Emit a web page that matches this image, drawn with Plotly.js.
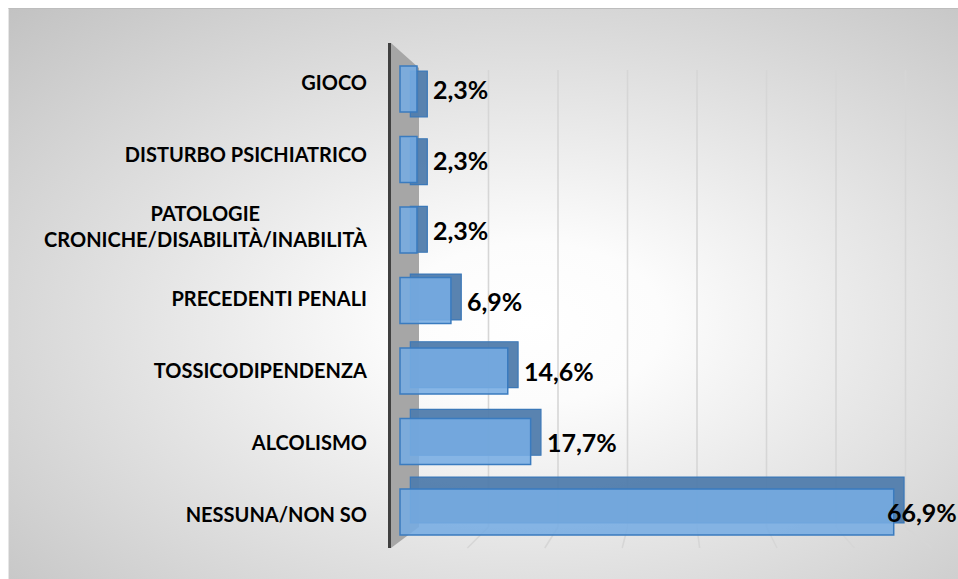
<!DOCTYPE html>
<html><head><meta charset="utf-8">
<script src="https://cdn.plot.ly/plotly-3.0.1.min.js"></script>
<style>
html,body{margin:0;padding:0;width:958px;height:579px;overflow:hidden;background:#fff;}
#panel{position:absolute;left:8px;top:8px;width:950px;height:571px;box-sizing:border-box;
 background:radial-gradient(ellipse farthest-corner at 55% 55%, #ffffff 0%, #fcfcfc 18%, #c2c2c2 100%);
 border-top:1px solid #bdbdbd;border-left:1px solid #e6e6e6;}
#chart{position:absolute;left:0;top:0;width:958px;height:579px;}
</style></head><body><div id="panel"></div><div id="chart"></div>
<script>
// ---- data ----
const categories = ['GIOCO','DISTURBO PSICHIATRICO','PATOLOGIE CRONICHE/DISABILITÀ/INABILITÀ','PRECEDENTI PENALI','TOSSICODIPENDENZA','ALCOLISMO','NESSUNA/NON SO'];
const tickLabels = ['GIOCO','DISTURBO PSICHIATRICO','PATOLOGIE' + '\u00A0'.repeat(22) + '<br>CRONICHE/DISABILITÀ/INABILITÀ','PRECEDENTI PENALI','TOSSICODIPENDENZA','ALCOLISMO','NESSUNA/NON SO'];
const values = [2.3, 2.3, 2.3, 6.9, 14.6, 17.7, 66.9];
const valueLabels = ['2,3%','2,3%','2,3%','6,9%','14,6%','17,7%','66,9%'];
const gridValues = [10, 20, 30, 40, 50, 60, 70];

// ---- geometry (pixels) ----
const W = 958, H = 579, L = 391, R = 0, T = 43, B = 31;
const plotW = W - L - R, plotH = H - T - B;
const xp = px => (px - L) / plotW;
const yp = py => (H - B - py) / plotH;

const front0 = 400, frontK = 7.38;   // front face scale
const back0 = 419, backK = 6.95;     // back wall scale
const floor0 = 390, floorK = 7.74;   // floor front edge scale

const barW = 0.65;
const depth = 1.4;
const backShift = categories.map((c, i) => (5 - 17 * i / 6) / 70.5);

const backTrace = {
  type: 'bar', orientation: 'h', yaxis: 'y2', xaxis: 'x',
  y: categories, x: values, base: values.map(() => depth),
  width: barW, offset: backShift.map(s => -barW / 2 + s),
  marker: {color: 'rgba(80,124,172,0.95)', line: {color: '#3b78b8', width: 1.2}},
  hoverinfo: 'skip'
};
const frontTrace = {
  type: 'bar', orientation: 'h', yaxis: 'y2', xaxis: 'x',
  y: categories, x: values, width: barW,
  marker: {color: 'rgba(118,172,226,0.88)', line: {color: '#3a7bbf', width: 1.5}},
  hoverinfo: 'x+y'
};

const shapes = [];
// side wall
shapes.push({type: 'path', xref: 'paper', yref: 'paper', layer: 'below',
  path: `M ${xp(391)},${yp(43)} L ${xp(419)},${yp(68)} L ${xp(419)},${yp(527)} L ${xp(391)},${yp(548)} Z`,
  fillcolor: '#a6a6a6', line: {width: 0}});
// gridlines on back wall + floor
gridValues.forEach(v => {
  shapes.push({type: 'line', xref: 'x2', yref: 'paper', layer: 'below',
    x0: v, x1: v, y0: yp(70), y1: yp(527), line: {color: '#d6d6d6', width: 1.6}});
  shapes.push({type: 'line', xref: 'paper', yref: 'paper', layer: 'below',
    x0: xp(back0 + backK * v), y0: yp(527), x1: xp(floor0 + floorK * v), y1: yp(548),
    line: {color: '#d6d6d6', width: 1.6}});
});

const maxV = Math.max(...values);
const annotations = values.map((v, i) => ({
  xref: 'x', yref: 'y2', x: v, y: categories[i],
  text: valueLabels[i], showarrow: false, xanchor: 'left', yanchor: 'middle',
  xshift: v === maxV ? -9 : 14,
  font: {family: 'Lato, sans-serif', size: 25, color: '#000', weight: 'bold'}
}));

const layout = {
  width: W, height: H,
  margin: {l: L, r: R, t: T, b: B, pad: 0},
  paper_bgcolor: 'rgba(0,0,0,0)', plot_bgcolor: 'rgba(0,0,0,0)',
  showlegend: false, barmode: 'overlay',
  xaxis: {range: [(L - front0) / frontK, (W - R - front0) / frontK], showgrid: false, zeroline: false,
    showticklabels: false, showline: false, fixedrange: true},
  xaxis2: {overlaying: 'x', range: [(L - back0) / backK, (W - R - back0) / backK], visible: false, fixedrange: true},
  yaxis: {type: 'category', categoryarray: categories, tickmode: 'array', tickvals: categories, ticktext: tickLabels,
    range: [6 + (H - B - (83 + 72 * 6)) / 72, -(83 - T) / 72],
    showgrid: false, zeroline: false, showline: true, linecolor: '#404040', linewidth: 3,
    ticks: 'outside', ticklen: 17, tickcolor: 'rgba(0,0,0,0)',
    tickfont: {family: 'Lato, sans-serif', size: 20, color: '#000', weight: 'bold'}, fixedrange: true},
  yaxis2: {overlaying: 'y', type: 'category', categoryarray: categories,
    range: [6 + (H - B - (89 + 70.5 * 6)) / 70.5, -(89 - T) / 70.5], visible: false, fixedrange: true},
  shapes: shapes,
  annotations: annotations
};

Plotly.newPlot('chart', [backTrace, frontTrace], layout, {displayModeBar: false, staticPlot: true});
</script></body></html>
